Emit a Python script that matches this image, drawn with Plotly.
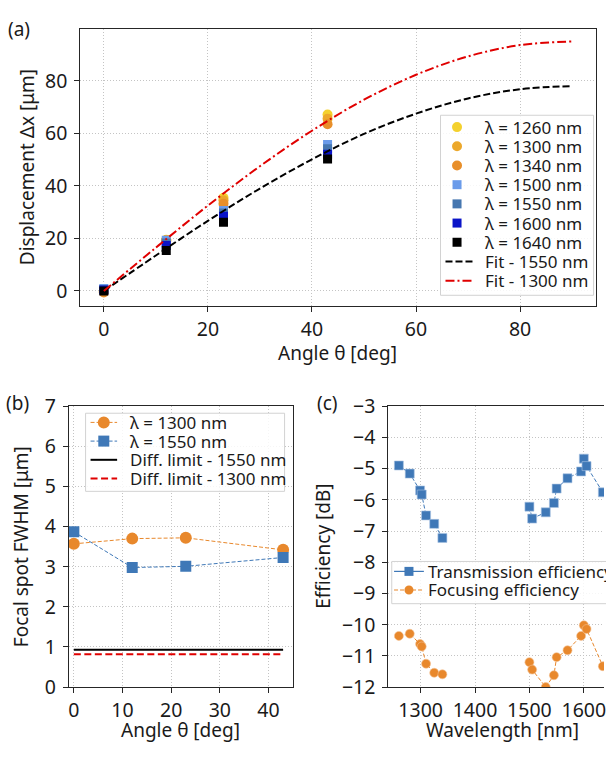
import plotly.graph_objects as go

# ---------------- data ----------------
# (a) displacement vs angle
angles = [0, 12, 23, 43]
disp_1260 = [0.0, 19.5, 35.5, 67.2]
disp_1300 = [-0.3, 19.4, 34.5, 65.6]
disp_1340 = [-0.6, 19.0, 33.2, 63.5]
disp_1500 = [0.9, 19.3, 30.6, 55.8]
disp_1550 = [0.6, 18.3, 29.7, 54.1]
disp_1600 = [0.4, 17.3, 28.4, 52.0]
disp_1640 = [0.0, 15.4, 26.2, 50.2]

fit_angles = [0, 10, 20, 30, 40, 50, 60, 70, 80, 90]
fit_1550 = [0.0, 13.5, 26.7, 39.0, 50.1, 59.8, 67.5, 73.3, 76.8, 78.0]
fit_1300 = [0.0, 16.5, 32.5, 47.5, 61.0, 72.8, 82.3, 89.3, 93.6, 95.0]

# (b) focal spot FWHM
fwhm_angles = [0, 12, 23, 43]
fwhm_1300 = [3.57, 3.70, 3.72, 3.42]
fwhm_1550 = [3.87, 2.98, 3.01, 3.23]
diff_angles = [0, 43]
diff_1550 = [0.93, 0.93]
diff_1300 = [0.82, 0.82]

# (c) efficiency vs wavelength
wl_band_o = [1260, 1280, 1299, 1302, 1310, 1325, 1340]
trans_band_o = [-4.90, -5.16, -5.70, -5.83, -6.50, -6.77, -7.22]
focus_band_o = [-10.36, -10.29, -10.62, -10.70, -11.25, -11.54, -11.59]
wl_band_c = [1500, 1505, 1530, 1545, 1550, 1570, 1595, 1600, 1605, 1635]
trans_band_c = [-6.22, -6.60, -6.40, -6.10, -5.64, -5.31, -5.09, -4.68, -4.92, -5.76]
focus_band_c = [-11.20, -11.44, -12.00, -11.62, -11.04, -10.82, -10.36, -10.02, -10.14, -11.33]

# ---------------- style ----------------
W, H = 606, 757
FONT = "Noto Sans"
TXT = "#1a1a1a"
SPINE = "#262626"
BLUE = "#3f78b7"
ORANGE = "#e8882c"
TICK = 19.5
TITLE = 19
LEG = 17

def px(x):
    return x / W

def py(y):
    return 1 - y / H

fig = go.Figure()

# (a) markers
series_a = [
    (disp_1260, "#f4d12e", "circle", 10),
    (disp_1300, "#eca82b", "circle", 10),
    (disp_1340, "#e88f2a", "circle", 10),
    (disp_1500, "#6a9bea", "square", 9),
    (disp_1550, "#4677b0", "square", 9),
    (disp_1600, "#0a14c8", "square", 9),
    (disp_1640, "#000000", "square", 9),
]
for vals, col, sym, sz in series_a:
    fig.add_trace(go.Scatter(x=angles, y=vals, mode="markers", xaxis="x", yaxis="y",
                             marker=dict(color=col, symbol=sym, size=sz, line=dict(width=0)),
                             showlegend=False))
fig.add_trace(go.Scatter(x=fit_angles, y=fit_1550, mode="lines", xaxis="x", yaxis="y",
                         line=dict(color="black", width=2, dash="7px,3px", shape="spline"),
                         showlegend=False))
fig.add_trace(go.Scatter(x=fit_angles, y=fit_1300, mode="lines", xaxis="x", yaxis="y",
                         line=dict(color="#e00000", width=2, dash="9px,3px,2px,3px", shape="spline"),
                         showlegend=False))

# (b)
fig.add_trace(go.Scatter(x=diff_angles, y=diff_1550, mode="lines", xaxis="x2", yaxis="y2",
                         line=dict(color="black", width=2), showlegend=False))
fig.add_trace(go.Scatter(x=diff_angles, y=diff_1300, mode="lines", xaxis="x2", yaxis="y2",
                         line=dict(color="#e00000", width=2, dash="7px,3.5px"), showlegend=False))
fig.add_trace(go.Scatter(x=fwhm_angles, y=fwhm_1300, mode="lines+markers", xaxis="x2", yaxis="y2",
                         line=dict(color=ORANGE, width=1, dash="4px,2px"),
                         marker=dict(color=ORANGE, symbol="circle", size=12, line=dict(width=0)),
                         showlegend=False))
fig.add_trace(go.Scatter(x=fwhm_angles, y=fwhm_1550, mode="lines+markers", xaxis="x2", yaxis="y2",
                         line=dict(color=BLUE, width=1, dash="4px,2px"),
                         marker=dict(color=BLUE, symbol="square", size=11, line=dict(width=0)),
                         showlegend=False))

# (c)
wl_all = wl_band_o + [None] + wl_band_c
trans_all = trans_band_o + [None] + trans_band_c
focus_all = focus_band_o + [None] + focus_band_c
fig.add_trace(go.Scatter(x=wl_all, y=trans_all, mode="lines+markers", xaxis="x3", yaxis="y3",
                         line=dict(color=BLUE, width=1, dash="4px,2px"),
                         marker=dict(color=BLUE, symbol="square", size=9,
                                     line=dict(width=0.6, color="#a9c3e3")),
                         showlegend=False, connectgaps=False))
fig.add_trace(go.Scatter(x=wl_all, y=focus_all, mode="lines+markers", xaxis="x3", yaxis="y3",
                         line=dict(color=ORANGE, width=1, dash="4px,2px"),
                         marker=dict(color=ORANGE, symbol="circle", size=9,
                                     line=dict(width=0.6, color="#f3c193")),
                         showlegend=False, connectgaps=False))

# ---------------- axes ----------------
def axis(**kw):
    d = dict(showline=True, linecolor=SPINE, linewidth=1.2, mirror=True,
             ticks="outside", ticklen=5, tickwidth=1.2, tickcolor=SPINE,
             showgrid=True, gridcolor="#c4c4c4", griddash="1px,2px", gridwidth=0.9,
             zeroline=False, tickfont=dict(family=FONT, size=TICK, color=TXT))
    d.update(kw)
    return d

a_x0, a_x1, a_y0, a_y1 = 79.8, 597.5, 15.1, 303.0
b_x0, b_x1 = 68.3, 293.3
c_x0 = 389.3
bc_y0, bc_y1 = 406.7, 698.0

fig.update_layout(
    width=W, height=H, margin=dict(l=0, r=0, t=0, b=0),
    paper_bgcolor="white", plot_bgcolor="white", showlegend=False,
    font=dict(family=FONT, color=TXT),
    xaxis=axis(domain=[px(a_x0), px(a_x1)], range=[-4.5, 94.5], tickvals=[0, 20, 40, 60, 80],
               anchor="y"),
    yaxis=axis(domain=[py(a_y1), py(a_y0)], range=[-5.8, 99.9], tickvals=[0, 20, 40, 60, 80],
               anchor="x", ticklabelstandoff=3),
    xaxis2=axis(domain=[px(b_x0), px(b_x1)], range=[-1, 45], tickvals=[0, 10, 20, 30, 40],
                anchor="y2"),
    yaxis2=axis(domain=[py(bc_y1), py(bc_y0)], range=[0, 7], tickvals=list(range(0, 8)),
                anchor="x2", ticklabelstandoff=3),
    xaxis3=axis(domain=[px(c_x0), 1.0], range=[1240.7, 1637.1], tickvals=[1300, 1400, 1500, 1600],
                anchor="y3", ticklabeloverflow="allow"),
    yaxis3=axis(domain=[py(bc_y1), py(bc_y0)], range=[-12, -3], tickvals=list(range(-12, -2)),
                anchor="x3", mirror=False, ticklabelstandoff=3),
)

# ---------------- titles / labels ----------------
annotations = []

def text(x, y, s, size=TITLE, angle=0, xanchor="center", yanchor="middle"):
    annotations.append(dict(x=px(x), y=py(y), xref="paper", yref="paper", text=s,
                            showarrow=False, textangle=angle, xanchor=xanchor, yanchor=yanchor,
                            font=dict(family=FONT, size=size, color=TXT)))

text(18, 16, "(a)")
text(17, 403, "(b)")
text(328, 403, "(c)")
text(26, 159, "Displacement Δx [μm]", angle=-90)
text((a_x0 + a_x1) / 2, 352, "Angle θ [deg]")
text(20, 552, "Focal spot FWHM [μm]", angle=-90)
text((b_x0 + b_x1) / 2, 742, "Angle θ [deg]")
text(324, 552, "Efficiency [dB]", angle=-90)
text(504, 742, "Wavelength [nm]")

# ---------------- legends (drawn) ----------------
shapes = []

def frame(x0, y0, x1, y1):
    shapes.append(dict(type="rect", xref="paper", yref="paper", x0=px(x0), x1=px(x1),
                       y0=py(y1), y1=py(y0), fillcolor="rgba(255,255,255,0.85)",
                       line=dict(color="#d2d2d2", width=1), layer="above"))

def mark(xc, yc, size, color, kind):
    shapes.append(dict(type="circle" if kind == "circle" else "rect", xref="paper", yref="paper",
                       xsizemode="pixel", ysizemode="pixel", xanchor=px(xc), yanchor=py(yc),
                       x0=-size / 2, x1=size / 2, y0=-size / 2, y1=size / 2,
                       fillcolor=color, line=dict(width=0), layer="above"))

def hline(xa, xb, y, color, width, dash="solid"):
    shapes.append(dict(type="line", xref="paper", yref="paper", x0=px(xa), x1=px(xb),
                       y0=py(y), y1=py(y), line=dict(color=color, width=width, dash=dash),
                       layer="above"))

# legend (a)
frame(441.7, 105, 595.5, 291.7)
leg_a_labels = ["λ = 1260 nm", "λ = 1300 nm", "λ = 1340 nm", "λ = 1500 nm",
                "λ = 1550 nm", "λ = 1600 nm", "λ = 1640 nm", "Fit - 1550 nm", "Fit - 1300 nm"]
for i, lab in enumerate(leg_a_labels):
    yc = 117.3 + 19.9 * i
    if i < 7:
        col, sym, sz = series_a[i][1], series_a[i][2], series_a[i][3]
        mark(458.3, yc, sz, col, "circle" if sym == "circle" else "rect")
    elif i == 7:
        hline(446.7, 474.3, yc, "black", 2, "7px,3px")
    else:
        hline(446.7, 474.3, yc, "#e00000", 2, "9px,3px,2px,3px")
    text(484, yc, lab, size=LEG, xanchor="left")

# legend (b)
frame(85, 414, 285, 495)
leg_b = [("λ = 1300 nm", ORANGE, "circle", "4px,2px", 1),
         ("λ = 1550 nm", BLUE, "rect", "4px,2px", 1),
         ("Diff. limit - 1550 nm", "black", None, "solid", 2),
         ("Diff. limit - 1300 nm", "#e00000", None, "7px,3.5px", 2)]
for i, (lab, col, kind, dash, lw) in enumerate(leg_b):
    yc = 423.5 + 19.4 * i
    hline(90, 116.7, yc, col, lw, dash)
    if kind:
        mark(103.3, yc, 12 if kind == "circle" else 11, col, kind)
    text(127.5, yc, lab, size=LEG, xanchor="left")

# legend (c) (extends past the right edge, as in the cropped original)
frame(392.7, 567.7, 640, 611.5)
hline(395, 425, 578.0, BLUE, 1.2, "solid")
mark(410, 578.0, 9, BLUE, "rect")
text(427.5, 578.0, "Transmission efficiency", size=LEG, xanchor="left")
hline(395, 425, 597.3, ORANGE, 1.2, "4px,2px")
mark(410, 597.3, 9, ORANGE, "circle")
text(427.5, 597.3, "Focusing efficiency", size=LEG, xanchor="left")

fig.update_layout(annotations=annotations, shapes=shapes)

fig.write_html(
    "out.html",
    config={"displayModeBar": False},
    post_script="document.body.style.margin='0';document.body.style.overflow='hidden';",
)
